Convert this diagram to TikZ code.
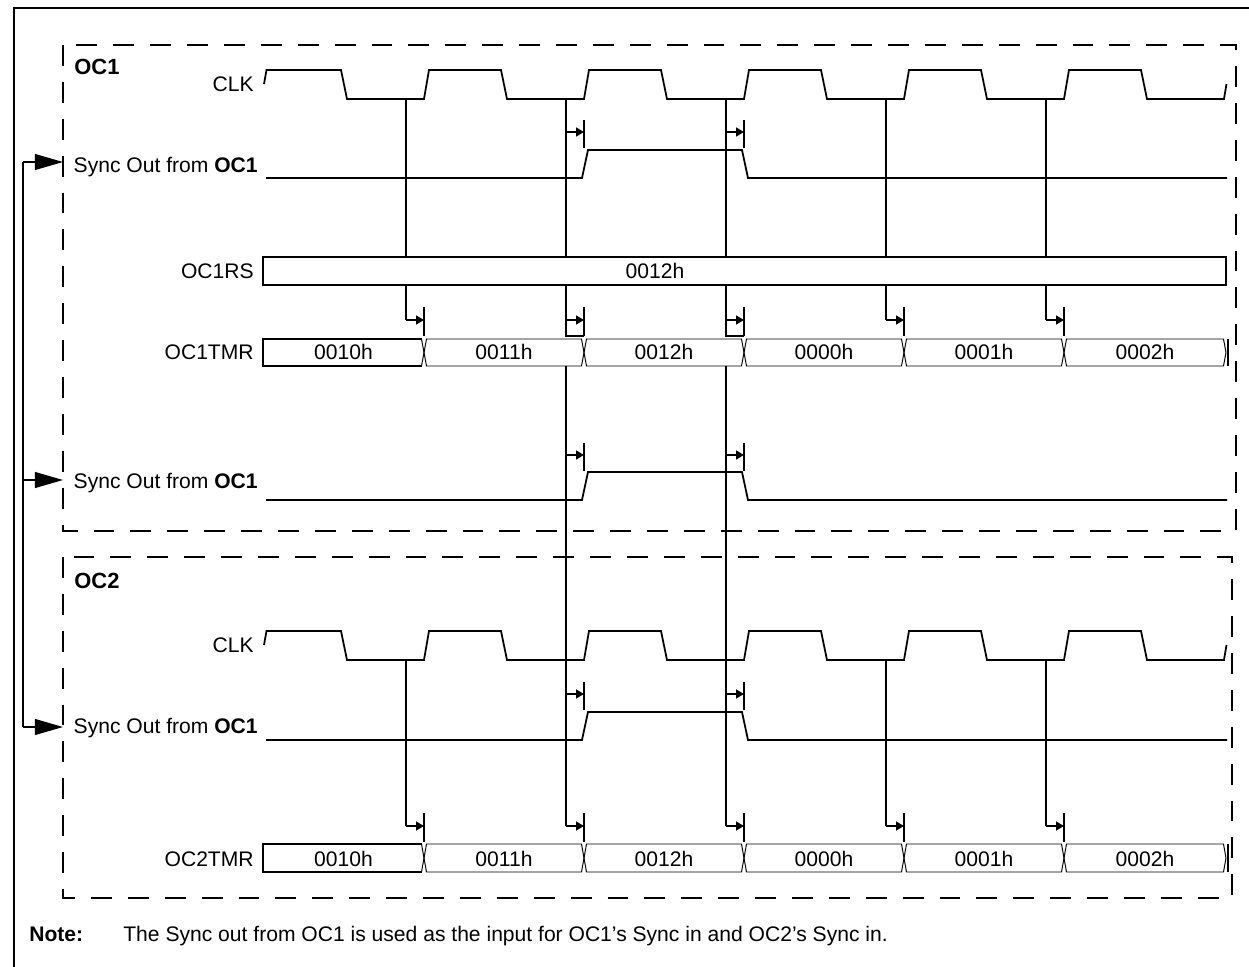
\documentclass[tikz,border=0pt]{standalone}
\usepackage{fontspec}
\setmainfont{Liberation Sans}
\usetikzlibrary{arrows.meta}

\begin{document}
\begin{tikzpicture}[x=0.02cm, y=-0.02cm]
    % Define styles
    \tikzset{
        every node/.style={font=\fontsize{12}{14}\selectfont},
        frameline/.style={line width=1.1pt},
        groupbox/.style={line width=1.1pt, dash pattern=on 11.9pt off 9.1pt},
        signal/.style={line width=1pt},
        busline/.style={line width=0.55pt},
        busfirst/.style={line width=1pt},
        siglabel/.style={anchor=base east, inner sep=0pt},
        busvalue/.style={anchor=base, inner sep=0pt},
        grouptitle/.style={anchor=base west, inner sep=0pt, font=\fontsize{12.5}{14}\selectfont\bfseries},
        notelabel/.style={anchor=base west, inner sep=0pt},
        delay/.style={line width=1pt, -{Triangle[length=4.5pt, width=5pt]}},
        feedback/.style={line width=1pt, -{Triangle[length=16pt, width=9pt]}}
    }
    \useasboundingbox (0,0) rectangle (1249,967);

    % Outer frame
    \draw[frameline] (14,967) -- (14,8) -- (1249,8);

    % Dashed group boxes
    \draw[groupbox] (63,45) rectangle (1236,531);
    \draw[groupbox] (63,557) rectangle (1232,898);

    % Group titles and signal names
    \node[grouptitle] (titleA) at (74,74) {OC1};
    \node[siglabel] (clkA) at (254,91) {CLK};
    \node[siglabel] (syncA) at (258,172) {Sync Out from \textbf{OC1}};
    \node[siglabel] (rsA) at (254,278) {OC1RS};
    \node[siglabel] (tmrA) at (254,359) {OC1TMR};
    \node[siglabel] (syncB) at (258,488) {Sync Out from \textbf{OC1}};
    \node[grouptitle] (titleB) at (74,588) {OC2};
    \node[siglabel] (clkB) at (254,652) {CLK};
    \node[siglabel] (syncC) at (258,733) {Sync Out from \textbf{OC1}};
    \node[siglabel] (tmrB) at (254,866) {OC2TMR};

    % Clocks of OC1 and OC2
    \foreach \dy in {0,561} {
        \draw[signal] (264,{84+\dy}) -- (266.5,{70+\dy})
            \foreach \k in {0,...,4} {
                -- ({341+160*\k},{70+\dy}) -- ({347+160*\k},{99+\dy})
                -- ({424+160*\k},{99+\dy}) -- ({429+160*\k},{70+\dy})
            }
            -- (1141,{70+\dy}) -- (1147,{99+\dy}) -- (1224,{99+\dy}) -- (1226.5,{84+\dy});
    }

    % Sync out pulses
    \foreach \lo/\hi in {178/150, 500/472, 740/712}
        \draw[signal] (266,\lo) -- (582,\lo) -- (588,\hi) -- (742,\hi) -- (748,\lo) -- (1227,\lo);

    % OC1RS register
    \draw[signal] (263,257) rectangle (1226,285);
    \node[busvalue] (rsval) at (655,278) {0012h};

    % Timer buses
    \foreach \top/\bot/\base/\nm in {339/366/359/A, 844/872/866/B} {
        \draw[busfirst] (421.5,\top) -- (263,\top) -- (263,\bot) -- (421.5,\bot);
        \draw[busline] (421.5,\top) -- (424,{(\top+\bot)/2}) -- (421.5,\bot);
        \foreach \xa/\xb in {424/584, 584/744, 744/904, 904/1064, 1064/1226}
            \draw[busline] ({\xa+2.5},\top) -- ({\xb-2.5},\top) -- (\xb,{(\top+\bot)/2})
                -- ({\xb-2.5},\bot) -- ({\xa+2.5},\bot) -- (\xa,{(\top+\bot)/2}) -- cycle;
        \draw[signal] (1228,\top) -- (1228,\bot);
        \foreach \xa/\xb/\val [count=\i] in {263/424/0010h, 424/584/0011h, 584/744/0012h,
                                             744/904/0000h, 904/1064/0001h, 1064/1226/0002h}
            \node[busvalue] (val\nm\i) at ({(\xa+\xb)/2},\base) {\val};
    }

    % Clock sampling lines
    \foreach \x in {406, 886, 1046} {
        \draw[signal] (\x,99) -- (\x,257);
        \draw[signal] (\x,285) -- (\x,320);
        \draw[delay] (\x,320) -- ({\x+18},320);
        \draw[signal] ({\x+18},307) -- ({\x+18},336);
        \draw[signal] (\x,660) -- (\x,826);
        \draw[delay] (\x,826) -- ({\x+18},826);
        \draw[signal] ({\x+18},813) -- ({\x+18},842);
    }

    % Sync lines running through both groups
    \foreach \x in {566, 726} {
        \draw[signal] (\x,99) -- (\x,257);
        \draw[signal] (\x,285) -- (\x,336) -- ({\x+18},336);
        \draw[signal] (\x,366) -- (\x,826);
        \foreach \ya/\yb/\yc in {132/120/148, 320/307/336, 455/443/471, 694/682/710, 826/813/842} {
            \draw[delay] (\x,\ya) -- ({\x+18},\ya);
            \draw[signal] ({\x+18},\yb) -- ({\x+18},\yc);
        }
    }

    % Feedback of sync out
    \coordinate (fbA) at (23,162);
    \coordinate (fbB) at (23,480);
    \coordinate (fbC) at (23,727);
    \coordinate (inA) at (63,162);
    \coordinate (inB) at (63,480);
    \coordinate (inC) at (63,727);
    \draw[signal] (fbA) -- (fbC);
    \draw[feedback] (fbA) -- (inA);
    \draw[feedback] (fbB) -- (inB);
    \draw[feedback] (fbC) -- (inC);

    % Note
    \node[notelabel, font=\fontsize{12}{14}\selectfont\bfseries] (notehead) at (29,941) {Note:};
    \node[notelabel] (notetext) at (123,941) {The Sync out from OC1 is used as the input for OC1’s Sync in and OC2’s Sync in.};
\end{tikzpicture}
\end{document}
